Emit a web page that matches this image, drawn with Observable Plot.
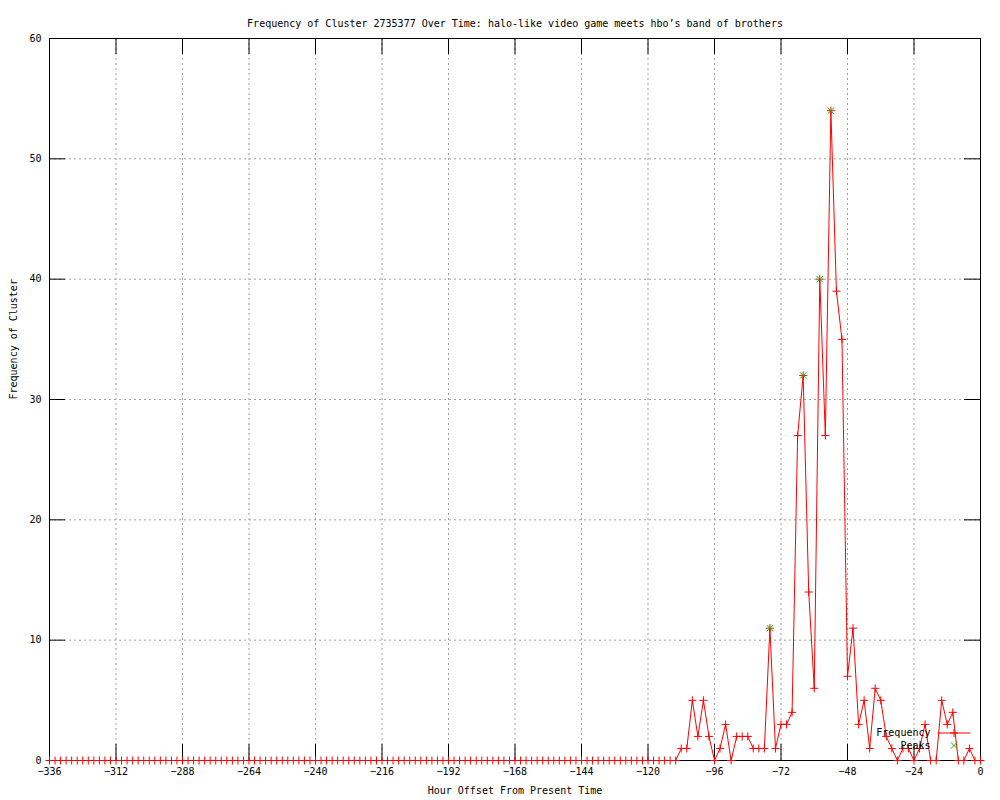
<!DOCTYPE html>
<html><head><meta charset="utf-8">
<script src="https://cdn.jsdelivr.net/npm/d3@7"></script>
<script src="https://cdn.jsdelivr.net/npm/@observablehq/plot@0.6"></script>
<style>body{margin:0;background:#fff} #chart svg{display:block}</style>
</head><body><div id="chart"></div>
<script>
const title = "Frequency of Cluster 2735377 Over Time: halo-like video game meets hbo’s band of brothers";
const xLabel = "Hour Offset From Present Time";
const yLabel = "Frequency of Cluster";
const seriesNames = ["Frequency", "Peaks"];

// hour offsets, every 2 hours from -336 to 0
const hours = d3.range(-336, 1, 2);
const frequency = [
  0,0,0,0,0,0,0,0,0,0,0,0,0,0,0,0,0,0,0,
  0,0,0,0,0,0,0,0,0,0,0,0,0,0,0,0,0,0,0,
  0,0,0,0,0,0,0,0,0,0,0,0,0,0,0,0,0,0,0,
  0,0,0,0,0,0,0,0,0,0,0,0,0,0,0,0,0,0,0,
  0,0,0,0,0,0,0,0,0,0,0,0,0,0,0,0,0,0,0,
  0,0,0,0,0,0,0,0,0,0,0,0,0,0,0,0,0,0,0,
  1,1,5,2,5,2,0,1,3,0,
  2,2,2,1,1,1,11,1,3,3,
  4,27,32,14,6,40,27,54,39,35,
  7,11,3,5,1,6,5,2,1,0,
  1,1,0,1,3,0,0,5,3,4,
  0,0,1,0,0
];
const peakHours = [-76, -64, -58, -54];
const peakValues = [11, 32, 40, 54];

const xTicks = [-336,-312,-288,-264,-240,-216,-192,-168,-144,-120,-96,-72,-48,-24,0];
const yTicks = [0,10,20,30,40,50,60];

const data = hours.map((h, i) => ({h, f: frequency[i]}));
const peaks = peakHours.map((h, i) => ({h, f: peakValues[i]}));

const W = 1000, H = 800, mL = 49, mR = 20, mT = 38, mB = 40;
const innerW = W - mL - mR, innerH = H - mT - mB;
const tick = 16;
const fmt = d => String(d).replace("-", "\u2212");
const hline = {draw(ctx) { ctx.moveTo(-16.5, 0); ctx.lineTo(16.5, 0); }};

const chart = Plot.plot({
  width: W, height: H,
  marginLeft: mL, marginRight: mR, marginTop: mT, marginBottom: mB,
  style: {fontFamily: "'DejaVu Sans Mono', monospace", fontSize: "10px", background: "#fff", color: "#000", overflow: "visible"},
  x: {domain: [-336, 0], axis: null},
  y: {domain: [0, 60], axis: null},
  marks: [
    Plot.ruleX(xTicks.slice(1, -1), {x: d => d, stroke: "#a0a0a0", strokeDasharray: "2,3"}),
    Plot.ruleY(yTicks.slice(1, -1), {y: d => d, stroke: "#a0a0a0", strokeDasharray: "2,3"}),
    Plot.tickX(xTicks, {x: d => d, stroke: "#000", insetTop: innerH - tick}),
    Plot.tickX(xTicks, {x: d => d, stroke: "#000", insetBottom: innerH - tick}),
    Plot.tickY(yTicks, {y: d => d, stroke: "#000", insetRight: innerW - tick}),
    Plot.tickY(yTicks, {y: d => d, stroke: "#000", insetLeft: innerW - tick}),
    Plot.frame({stroke: "#000"}),
    Plot.text(xTicks, {x: d => d, text: fmt, frameAnchor: "bottom", dy: 14}),
    Plot.text(yTicks, {y: d => d, text: fmt, frameAnchor: "left", dx: -8, textAnchor: "end"}),
    Plot.text([title], {text: d => d, frameAnchor: "top", dy: -19}),
    Plot.text([xLabel], {text: d => d, frameAnchor: "bottom", dy: 33}),
    Plot.text([yLabel], {text: d => d, frameAnchor: "left", dx: -36, rotate: -90}),
    Plot.line(data, {x: "h", y: "f", stroke: "#ff0000", strokeWidth: 1}),
    Plot.dot(data, {x: "h", y: "f", symbol: "plus", stroke: "#ff0000", fill: "none", r: 2.7, strokeWidth: 1}),
    Plot.dot(peaks, {x: "h", y: "f", symbol: "times", stroke: "#00c000", fill: "none", r: 3, strokeWidth: 1}),
    // legend
    Plot.text([seriesNames[0]], {text: d => d, frameAnchor: "bottom-right", dx: -50, dy: -25, textAnchor: "end"}),
    Plot.text([seriesNames[1]], {text: d => d, frameAnchor: "bottom-right", dx: -50, dy: -12, textAnchor: "end"}),
    Plot.dot([0], {frameAnchor: "bottom-right", dx: -26.5, dy: -27.5, symbol: hline, stroke: "#ff0000", fill: "none", strokeWidth: 1}),
    Plot.dot([0], {frameAnchor: "bottom-right", dx: -26.5, dy: -27.5, symbol: "plus", stroke: "#ff0000", fill: "none", r: 2.7, strokeWidth: 1}),
    Plot.dot([0], {frameAnchor: "bottom-right", dx: -26.5, dy: -15, symbol: "times", stroke: "#00c000", fill: "none", r: 3, strokeWidth: 1})
  ]
});
document.getElementById("chart").appendChild(chart);
</script>
</body></html>
